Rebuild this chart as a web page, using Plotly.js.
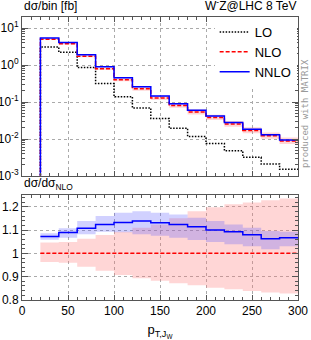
<!DOCTYPE html>
<html><head><meta charset="utf-8">
<script src="https://cdn.plot.ly/plotly-3.0.1.min.js"></script>
<style>html,body{margin:0;padding:0;background:#fff}#c{width:311px;height:340px}</style>
</head><body><div id="c"></div>
<script>
// bin edges (p_T,JW in GeV)
const edges = [20,40,60,80,100,120,140,160,180,200,220,240,260,280,300];
// dsigma/bin [fb]
const lo   = [3.08,2.21,0.857,0.318,0.14,0.069,0.0358,0.0196,0.0117,0.0076,0.00482,0.0032,0.00211,0.00152];
const nnlo = [5.38,4.10,1.91,0.895,0.453,0.259,0.145,0.0906,0.0598,0.042,0.0279,0.0184,0.013,0.0095];
// ratio to NLO
const rNNLO   = [1.072,1.089,1.107,1.124,1.132,1.139,1.131,1.124,1.114,1.100,1.093,1.080,1.063,1.067];
const rNNLOup = [1.086,1.107,1.139,1.160,1.174,1.180,1.174,1.167,1.153,1.139,1.124,1.110,1.096,1.093];
const rNNLOdn = [1.058,1.067,1.082,1.093,1.090,1.082,1.075,1.067,1.057,1.049,1.039,1.030,1.017,1.030];
const rNLOup  = [1.046,1.049,1.063,1.079,1.093,1.110,1.124,1.150,1.180,1.198,1.210,1.218,1.228,1.235];
const rNLOdn  = [0.963,0.960,0.943,0.925,0.907,0.893,0.882,0.872,0.863,0.853,0.846,0.839,0.832,0.828];

const nlo = nnlo.map((v,i)=>v/rNNLO[i]);
const step = a => a.concat([a[a.length-1]]);
const withFloor = (a, f) => [f].concat(step(a));
const xs = edges;
const xsF = [edges[0]].concat(edges);
const FLOOR = 1e-5;

const pink = 'rgba(255,120,120,0.30)';
const lblue = 'rgba(90,90,255,0.28)';
const traces = [];
// top panel bands
const nloUp = nlo.map((v,i)=>v*rNLOup[i]), nloDn = nlo.map((v,i)=>v*rNLOdn[i]);
const nnUp = nlo.map((v,i)=>v*rNNLOup[i]), nnDn = nlo.map((v,i)=>v*rNNLOdn[i]);
traces.push({x:xs,y:step(nloDn),mode:'lines',line:{shape:'hv',width:0},showlegend:false,hoverinfo:'skip',xaxis:'x',yaxis:'y'});
traces.push({x:xs,y:step(nloUp),mode:'lines',line:{shape:'hv',width:0},fill:'tonexty',fillcolor:pink,showlegend:false,hoverinfo:'skip',xaxis:'x',yaxis:'y'});
traces.push({x:xs,y:step(nnDn),mode:'lines',line:{shape:'hv',width:0},showlegend:false,hoverinfo:'skip',xaxis:'x',yaxis:'y'});
traces.push({x:xs,y:step(nnUp),mode:'lines',line:{shape:'hv',width:0},fill:'tonexty',fillcolor:lblue,showlegend:false,hoverinfo:'skip',xaxis:'x',yaxis:'y'});
// top panel lines
traces.push({name:'LO',x:xsF,y:withFloor(lo,FLOOR),mode:'lines',line:{shape:'hv',color:'#000',width:1.5,dash:'1.5px,1.5px'},xaxis:'x',yaxis:'y'});
traces.push({name:'NLO',x:xsF,y:withFloor(nlo,FLOOR),mode:'lines',line:{shape:'hv',color:'#ff0000',width:1.5,dash:'4px,2px'},xaxis:'x',yaxis:'y'});
traces.push({name:'NNLO',x:xsF,y:withFloor(nnlo,FLOOR),mode:'lines',line:{shape:'hv',color:'#0000ff',width:1.5},xaxis:'x',yaxis:'y'});
// bottom panel bands
traces.push({x:xs,y:step(rNLOdn),mode:'lines',line:{shape:'hv',width:0},showlegend:false,hoverinfo:'skip',xaxis:'x2',yaxis:'y2'});
traces.push({x:xs,y:step(rNLOup),mode:'lines',line:{shape:'hv',width:0},fill:'tonexty',fillcolor:pink,showlegend:false,hoverinfo:'skip',xaxis:'x2',yaxis:'y2'});
traces.push({x:xs,y:step(rNNLOdn),mode:'lines',line:{shape:'hv',width:0},showlegend:false,hoverinfo:'skip',xaxis:'x2',yaxis:'y2'});
traces.push({x:xs,y:step(rNNLOup),mode:'lines',line:{shape:'hv',width:0},fill:'tonexty',fillcolor:lblue,showlegend:false,hoverinfo:'skip',xaxis:'x2',yaxis:'y2'});
traces.push({x:xs,y:step(nlo.map(()=>1)),mode:'lines',line:{shape:'hv',color:'#ff0000',width:1.5,dash:'4px,2px'},showlegend:false,xaxis:'x2',yaxis:'y2'});
traces.push({x:xs,y:step(rNNLO),mode:'lines',line:{shape:'hv',color:'#0000ff',width:1.5},showlegend:false,xaxis:'x2',yaxis:'y2'});

const frame = {showline:true,linecolor:'#555',linewidth:1,mirror:'allticks',ticks:'inside',tickcolor:'#555',
  showgrid:true,gridcolor:'#aaa',griddash:'dot',gridwidth:1,zeroline:false};
const font = {family:'Liberation Sans, Arial, sans-serif',size:12,color:'#000'};
const layout = {
  width:311,height:340,margin:{l:22,r:13,t:17,b:40},paper_bgcolor:'#fff',plot_bgcolor:'#fff',font:font,
  showlegend:true,
  legend:{x:0.698,y:1.0,xanchor:'left',yanchor:'top',bgcolor:'#fff',font:{size:13},traceorder:'normal',tracegroupgap:0,itemwidth:30},
  xaxis:Object.assign({},frame,{domain:[0,1],range:[0,300],anchor:'y',showticklabels:false,tickvals:[0,50,100,150,200,250,300],ticklen:5,
     minor:{dtick:10,ticks:'inside',ticklen:3,tickcolor:'#555',showgrid:false}}),
  yaxis:Object.assign({},frame,{domain:[0.438,1],type:'log',range:[-3,1.3],anchor:'x',
     tickvals:[0.001,0.01,0.1,1,10],ticktext:['10<sup>-3</sup>','10<sup>-2</sup>','10<sup>-1</sup>','10<sup>0</sup>','10<sup>1</sup>'],ticklen:6,
     minor:{ticks:'inside',ticklen:3,tickcolor:'#555',showgrid:false,dtick:'D1'},tickfont:{size:12}}),
  xaxis2:Object.assign({},frame,{domain:[0,1],range:[0,300],anchor:'y2',tickvals:[0,50,100,150,200,250,300],ticklen:5,
     minor:{dtick:10,ticks:'inside',ticklen:3,tickcolor:'#555',showgrid:false},tickfont:{size:12},
     title:{text:'p<sub>T,J<sub>W</sub></sub>',font:{size:13},standoff:8}}),
  yaxis2:Object.assign({},frame,{domain:[0,0.371],range:[0.8,1.25],anchor:'x2',tickvals:[0.8,0.9,1,1.1,1.2],ticktext:['0.8','0.9','1','1.1','1.2'],ticklen:6,
     minor:{dtick:0.02,ticks:'inside',ticklen:3,tickcolor:'#555',showgrid:false},tickfont:{size:12}}),
  annotations:[
    {text:'dσ/bin [fb]',xref:'paper',yref:'paper',x:0,y:1,yshift:2,xanchor:'left',yanchor:'bottom',showarrow:false,font:{size:12}},
    {text:'W<sup>-</sup>Z@LHC 8 TeV',xref:'paper',yref:'paper',x:1,y:1,yshift:2,xanchor:'right',yanchor:'bottom',showarrow:false,font:{size:12}},
    {text:'dσ/dσ<sub>NLO</sub>',xref:'paper',yref:'paper',x:0,y:0.371,yshift:1,xanchor:'left',yanchor:'bottom',showarrow:false,font:{size:12}},
    {text:'produced with MATRIX',xref:'paper',yref:'paper',x:1,xshift:7,y:0.657,textangle:-90,xanchor:'center',yanchor:'middle',showarrow:false,
     font:{family:'DejaVu Sans Mono, monospace',size:9,color:'#999'}}
  ]
};
Plotly.newPlot('c',traces,layout,{staticPlot:true});
</script></body></html>
